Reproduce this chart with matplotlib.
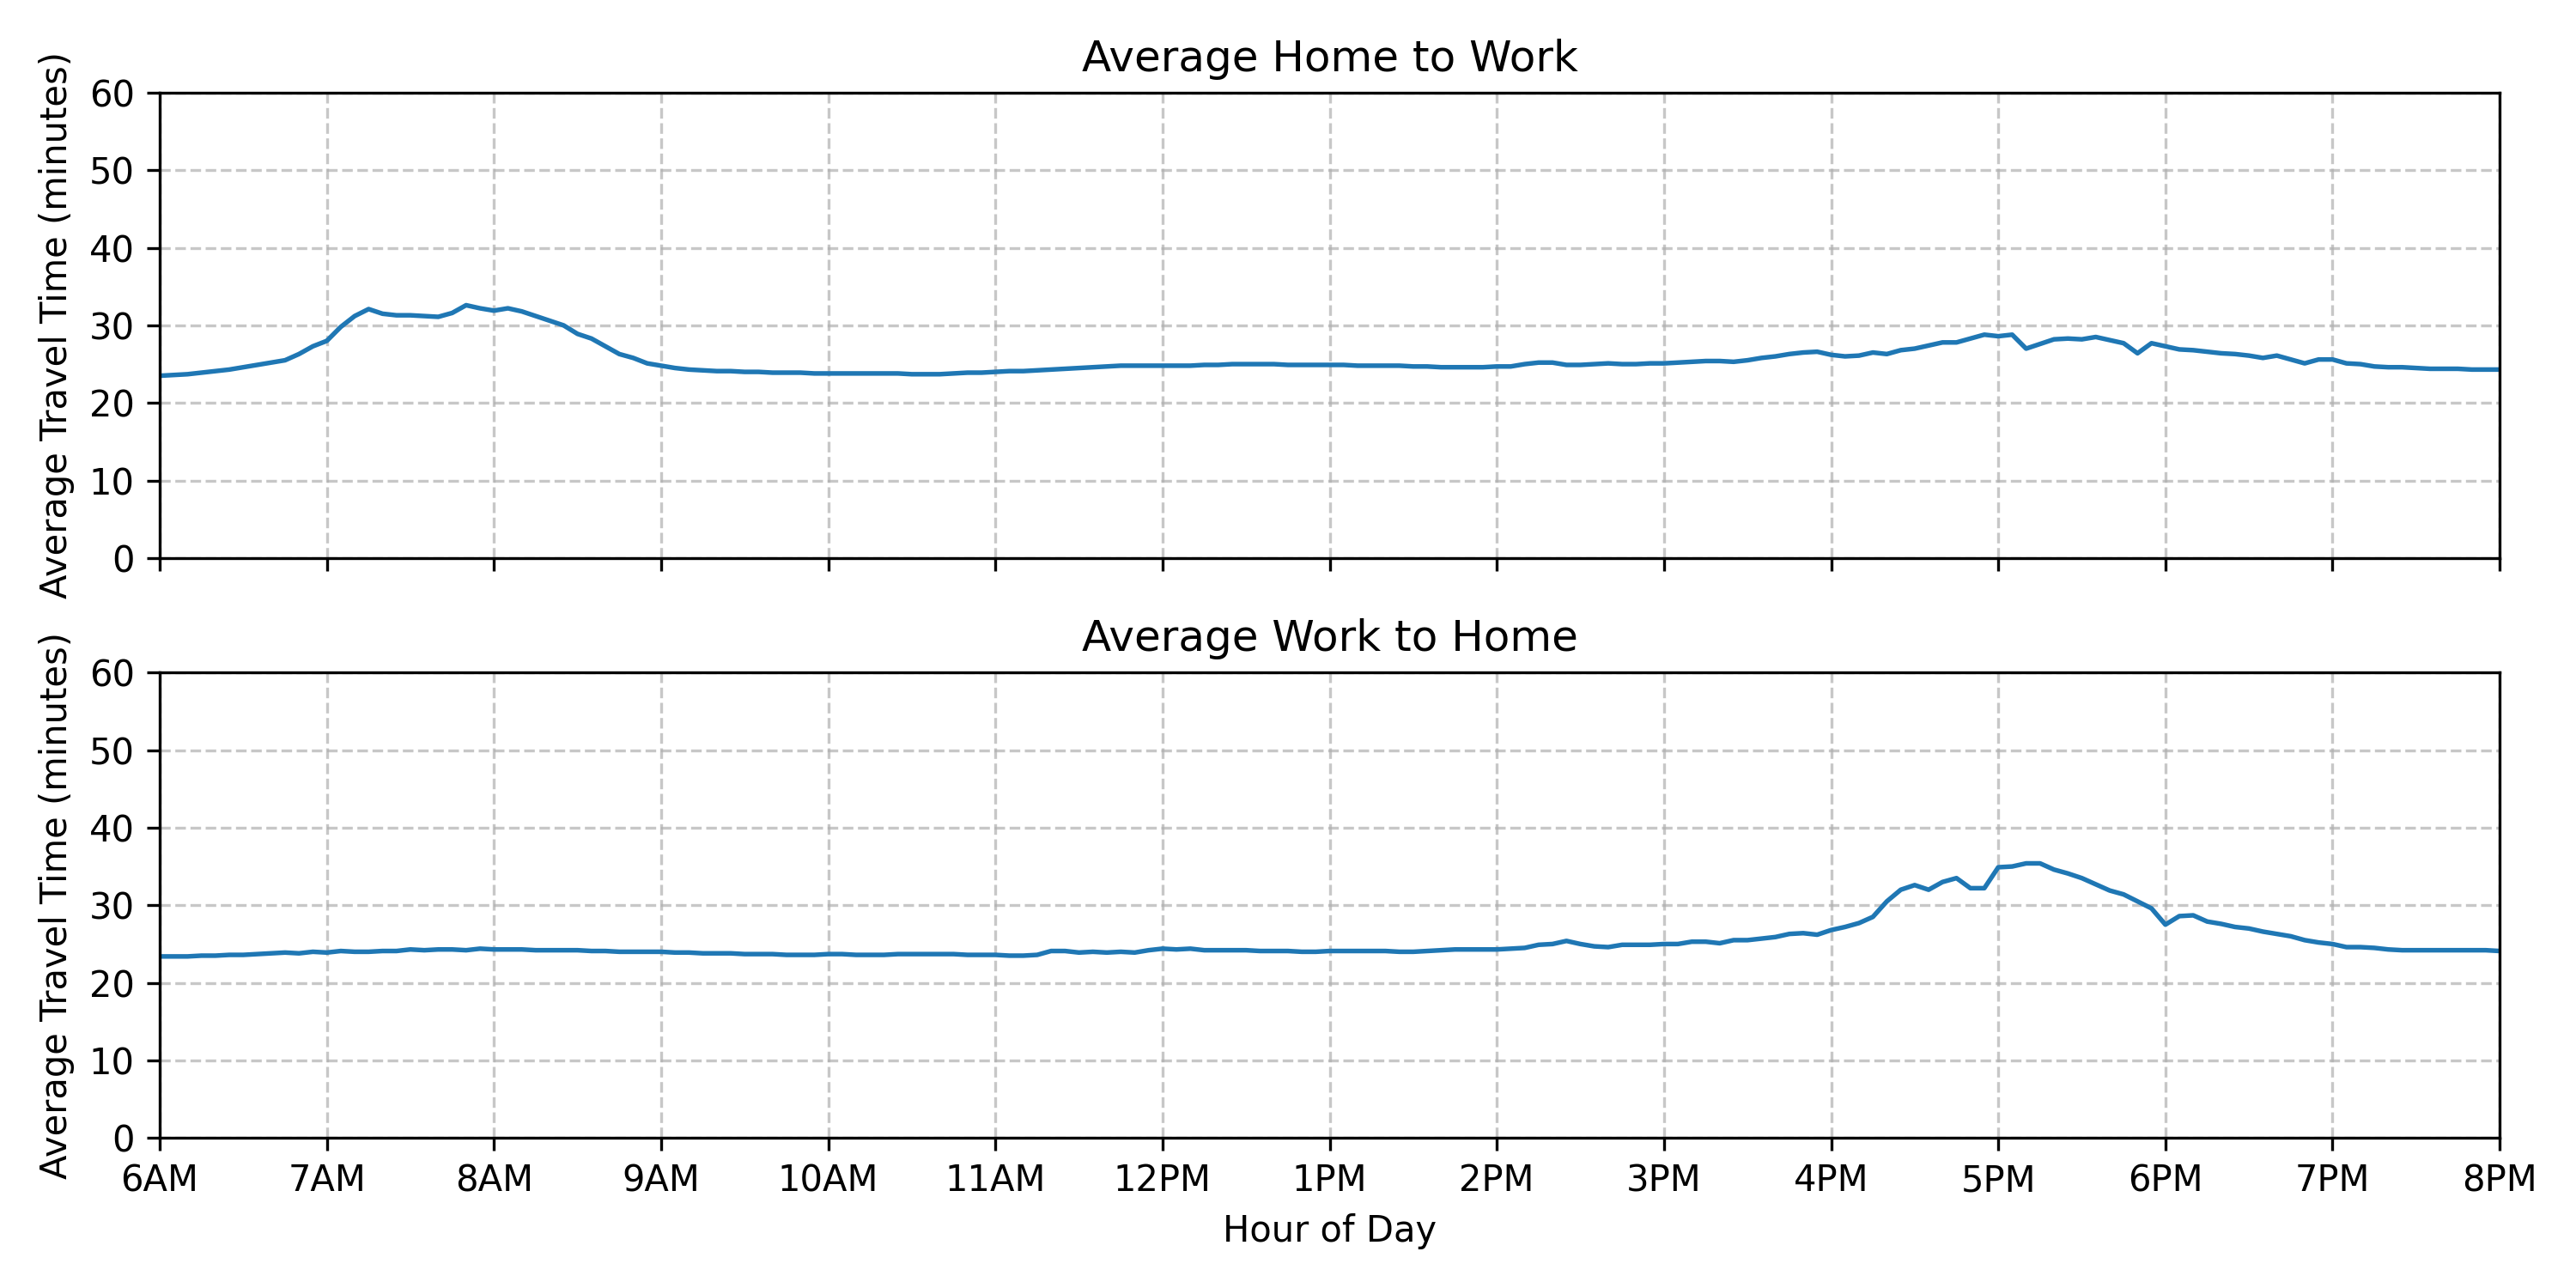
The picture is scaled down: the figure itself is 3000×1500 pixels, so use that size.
import numpy as np
import matplotlib.pyplot as plt

# 5-minute samples from 6AM to 8PM
home_to_work = [
    23.5, 23.6, 23.7, 23.9, 24.1, 24.3, 24.6, 24.9, 25.2, 25.5, 26.3, 27.3,
    28.0, 29.8, 31.2, 32.1, 31.5, 31.3, 31.3, 31.2, 31.1, 31.6, 32.6, 32.2,
    31.9, 32.2, 31.8, 31.2, 30.6, 30.0, 28.9, 28.3, 27.3, 26.3, 25.8, 25.1,
    24.8, 24.5, 24.3, 24.2, 24.1, 24.1, 24.0, 24.0, 23.9, 23.9, 23.9, 23.8,
    23.8, 23.8, 23.8, 23.8, 23.8, 23.8, 23.7, 23.7, 23.7, 23.8, 23.9, 23.9,
    24.0, 24.1, 24.1, 24.2, 24.3, 24.4, 24.5, 24.6, 24.7, 24.8, 24.8, 24.8,
    24.8, 24.8, 24.8, 24.9, 24.9, 25.0, 25.0, 25.0, 25.0, 24.9, 24.9, 24.9,
    24.9, 24.9, 24.8, 24.8, 24.8, 24.8, 24.7, 24.7, 24.6, 24.6, 24.6, 24.6,
    24.7, 24.7, 25.0, 25.2, 25.2, 24.9, 24.9, 25.0, 25.1, 25.0, 25.0, 25.1,
    25.1, 25.2, 25.3, 25.4, 25.4, 25.3, 25.5, 25.8, 26.0, 26.3, 26.5, 26.6,
    26.2, 26.0, 26.1, 26.5, 26.3, 26.8, 27.0, 27.4, 27.8, 27.8, 28.3, 28.8,
    28.6, 28.8, 27.0, 27.6, 28.2, 28.3, 28.2, 28.5, 28.1, 27.7, 26.4, 27.7,
    27.3, 26.9, 26.8, 26.6, 26.4, 26.3, 26.1, 25.8, 26.1, 25.6, 25.1, 25.6,
    25.6, 25.1, 25.0, 24.7, 24.6, 24.6, 24.5, 24.4, 24.4, 24.4, 24.3, 24.3,
    24.3,
]
work_to_home = [
    23.4, 23.4, 23.4, 23.5, 23.5, 23.6, 23.6, 23.7, 23.8, 23.9, 23.8, 24.0,
    23.9, 24.1, 24.0, 24.0, 24.1, 24.1, 24.3, 24.2, 24.3, 24.3, 24.2, 24.4,
    24.3, 24.3, 24.3, 24.2, 24.2, 24.2, 24.2, 24.1, 24.1, 24.0, 24.0, 24.0,
    24.0, 23.9, 23.9, 23.8, 23.8, 23.8, 23.7, 23.7, 23.7, 23.6, 23.6, 23.6,
    23.7, 23.7, 23.6, 23.6, 23.6, 23.7, 23.7, 23.7, 23.7, 23.7, 23.6, 23.6,
    23.6, 23.5, 23.5, 23.6, 24.1, 24.1, 23.9, 24.0, 23.9, 24.0, 23.9, 24.2,
    24.4, 24.3, 24.4, 24.2, 24.2, 24.2, 24.2, 24.1, 24.1, 24.1, 24.0, 24.0,
    24.1, 24.1, 24.1, 24.1, 24.1, 24.0, 24.0, 24.1, 24.2, 24.3, 24.3, 24.3,
    24.3, 24.4, 24.5, 24.9, 25.0, 25.4, 25.0, 24.7, 24.6, 24.9, 24.9, 24.9,
    25.0, 25.0, 25.3, 25.3, 25.1, 25.5, 25.5, 25.7, 25.9, 26.3, 26.4, 26.2,
    26.8, 27.2, 27.7, 28.5, 30.5, 32.0, 32.6, 32.0, 33.0, 33.5, 32.2, 32.2,
    34.9, 35.0, 35.4, 35.4, 34.6, 34.1, 33.5, 32.7, 31.9, 31.4, 30.5, 29.6,
    27.5, 28.6, 28.7, 27.9, 27.6, 27.2, 27.0, 26.6, 26.3, 26.0, 25.5, 25.2,
    25.0, 24.6, 24.6, 24.5, 24.3, 24.2, 24.2, 24.2, 24.2, 24.2, 24.2, 24.2,
    24.1,
]
hour_labels = ["6AM", "7AM", "8AM", "9AM", "10AM", "11AM", "12PM", "1PM",
               "2PM", "3PM", "4PM", "5PM", "6PM", "7PM", "8PM"]

minutes = np.arange(len(home_to_work)) * 5
hour_ticks = np.arange(len(hour_labels)) * 60

fig, axes = plt.subplots(2, 1, figsize=(10, 5), dpi=300, sharex=True)
for ax, series, title in zip(axes, [home_to_work, work_to_home],
                             ["Average Home to Work", "Average Work to Home"]):
    ax.plot(minutes, series, color="#1f77b4", linewidth=1.3)
    ax.set_title(title)
    ax.set_ylim(0, 60)
    ax.set_xlim(0, hour_ticks[-1])
    ax.set_ylabel("Average Travel Time (minutes)")
    ax.grid(True, linestyle="--", alpha=0.7)

axes[1].set_xticks(hour_ticks)
axes[1].set_xticklabels(hour_labels)
axes[1].set_xlabel("Hour of Day")

plt.tight_layout()
plt.savefig("out.png")
